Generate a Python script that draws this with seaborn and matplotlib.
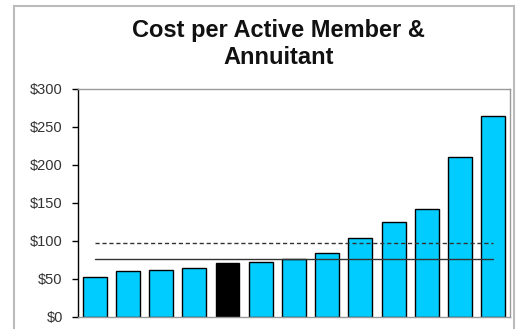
import matplotlib.pyplot as plt
import matplotlib.patches as ptc
import seaborn as sns
import pandas as pd

# values
systems = [f"S{i}" for i in range(1, 14)]
cost = [52, 60, 62, 64, 71, 73, 76, 84, 104, 125, 142, 210, 265]
highlight = "S5"
avg_line = 98
median_line = 76
yticks = [0, 50, 100, 150, 200, 250, 300]

df = pd.DataFrame({"system": systems, "cost": cost})
colors = {s: ("#000000" if s == highlight else "#00CCFF") for s in systems}

sns.set_theme(style="white")
plt.rcParams['font.family'] = ['Liberation Sans', 'DejaVu Sans']

fig = plt.figure(figsize=(5.22, 3.29), dpi=100)
ax = fig.add_axes([0.1494, 0.0365, 0.8276, 0.693])

sns.barplot(data=df, x="system", y="cost", hue="system", palette=colors,
            legend=False, width=0.72, edgecolor="black", linewidth=1.0,
            saturation=1, ax=ax)

ax.plot([0, len(systems) - 1], [avg_line, avg_line], color="#333333",
        linestyle=(0, (3, 2)), linewidth=1.0)
ax.plot([0, len(systems) - 1], [median_line, median_line], color="#333333",
        linewidth=1.0)

ax.set_xlim(-0.5, len(systems) - 0.5)
ax.set_ylim(0, 300)
ax.set_yticks(yticks)
ax.set_yticklabels([f"${v}" for v in yticks], fontsize=10.5, color="#333333")
ax.set_xticks([])
ax.set_xlabel("")
ax.set_ylabel("")
ax.tick_params(axis="y", direction="out", length=4, width=1, color="black", pad=7, left=True)

for side in ["top", "right", "bottom"]:
    ax.spines[side].set_color("#999999")
    ax.spines[side].set_linewidth(1.0)
ax.spines["left"].set_color("black")
ax.spines["left"].set_linewidth(1.0)

fig.text(0.533, 0.866, "Cost per Active Member &\nAnnuitant", ha="center", va="center",
         fontsize=17, fontweight="bold", color="#111111", linespacing=1.25)

frame = ptc.Rectangle((0.026, -0.05), 0.958, 1.032, transform=fig.transFigure,
                      fill=False, edgecolor="#BBBBBB", linewidth=1.5)
fig.patches.append(frame)

plt.savefig("out.png", dpi=100)
